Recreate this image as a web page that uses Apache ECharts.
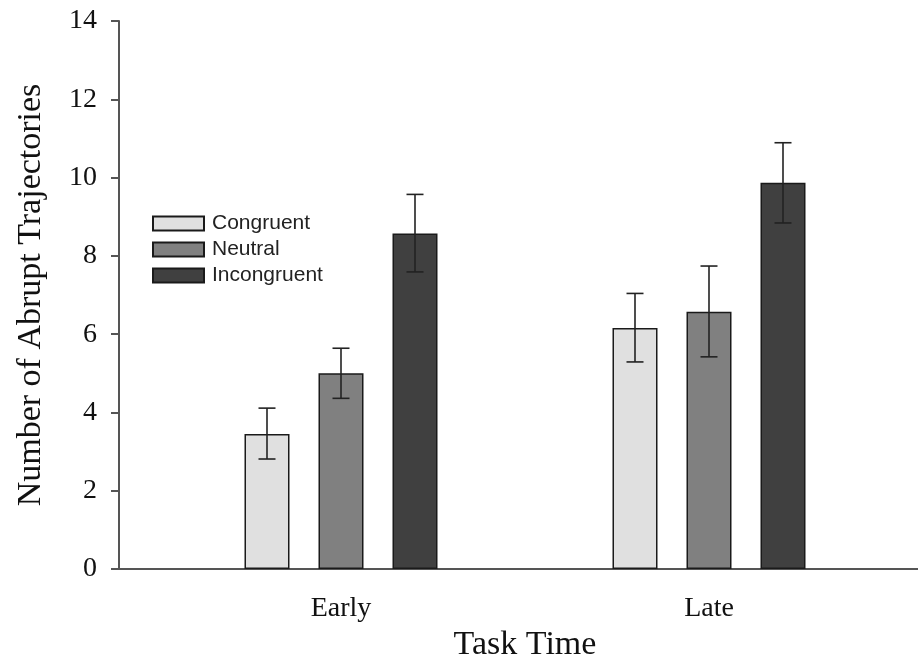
<!DOCTYPE html>
<html>
<head>
<meta charset="utf-8">
<script src="https://cdn.jsdelivr.net/npm/echarts@6/dist/echarts.min.js"></script>
<style>
html,body{margin:0;padding:0;background:#fff;}
#chart{width:918px;height:655px;}
</style>
</head>
<body>
<div id="chart"></div>
<script>
// ---- data ----
var categories = ['Early', 'Late'];
var seriesNames = ['Congruent', 'Neutral', 'Incongruent'];
var congruent = [3.45, 6.16];
var neutral = [5.00, 6.57];
var incongruent = [8.57, 9.87];
var congruentLow = [2.81, 5.29];
var congruentHigh = [4.11, 7.04];
var neutralLow = [4.36, 5.42];
var neutralHigh = [5.64, 7.74];
var incongruentLow = [7.59, 8.84];
var incongruentHigh = [9.57, 10.89];
var yTicks = [0, 2, 4, 6, 8, 10, 12, 14];

// ---- styling ----
var colors = ['#e0e0e0', '#808080', '#404040'];
var BAR_W = 45;
var BAR_GAP = 29;
var serif = '"Liberation Serif", "Times New Roman", serif';
var sans = '"Liberation Sans", Arial, sans-serif';

var values = [congruent, neutral, incongruent];
var lows = [congruentLow, neutralLow, incongruentLow];
var highs = [congruentHigh, neutralHigh, incongruentHigh];

var chart = echarts.init(document.getElementById('chart'), null, {renderer: 'canvas'});

var series = [];
seriesNames.forEach(function (name, k) {
  series.push({
    name: name,
    type: 'bar',
    xAxisIndex: 0,
    yAxisIndex: 0,
    barWidth: BAR_W,
    barGap: (BAR_GAP / BAR_W * 100) + '%',
    data: values[k],
    itemStyle: {color: colors[k], borderColor: '#1a1a1a', borderWidth: 1.5},
    emphasis: {disabled: true},
    z: 2
  });
});
seriesNames.forEach(function (name, k) {
  series.push({
    name: name + ' error',
    type: 'custom',
    xAxisIndex: 0,
    yAxisIndex: 0,
    z: 5,
    data: categories.map(function (c, i) { return [i, lows[k][i], highs[k][i]]; }),
    renderItem: function (params, api) {
      var shift = (k - 1) * (BAR_W + BAR_GAP);
      var top = api.coord([api.value(0), api.value(2)]);
      var bot = api.coord([api.value(0), api.value(1)]);
      var x = top[0] + shift;
      var cap = 8.5;
      var st = {stroke: '#222', lineWidth: 1.6};
      return {
        type: 'group',
        children: [
          {type: 'line', shape: {x1: x, y1: top[1], x2: x, y2: bot[1]}, style: st},
          {type: 'line', shape: {x1: x - cap, y1: top[1], x2: x + cap, y2: top[1]}, style: st},
          {type: 'line', shape: {x1: x - cap, y1: bot[1], x2: x + cap, y2: bot[1]}, style: st}
        ]
      };
    }
  });
});

var option = {
  backgroundColor: '#fff',
  animation: false,
  legend: {
    data: seriesNames,
    orient: 'vertical',
    left: 147,
    top: 208,
    icon: 'rect',
    itemWidth: 51,
    itemHeight: 14,
    itemGap: 5,
    selectedMode: false,
    textStyle: {fontFamily: sans, fontSize: 21, color: '#222', padding: [0, 0, 0, 3]}
  },
  grid: [
    {left: 157, right: 25, top: 21, bottom: 86, containLabel: false, outerBoundsMode: 'none'},
    {left: 119, right: 0, top: 21, bottom: 86, containLabel: false, outerBoundsMode: 'none'}
  ],
  xAxis: [
    {
      type: 'category',
      gridIndex: 0,
      data: categories,
      axisLine: {show: false},
      axisTick: {show: false},
      axisLabel: {fontFamily: serif, fontSize: 28, color: '#111', margin: 26},
      name: 'Task Time',
      nameLocation: 'middle',
      nameGap: 52,
      nameTextStyle: {fontFamily: serif, fontSize: 34, color: '#111'}
    },
    {
      type: 'value',
      gridIndex: 1,
      min: 0,
      max: 1,
      axisLine: {show: true, lineStyle: {color: '#555', width: 2}},
      axisTick: {show: false},
      axisLabel: {show: false},
      splitLine: {show: false}
    }
  ],
  yAxis: [
    {
      type: 'value',
      gridIndex: 0,
      min: yTicks[0],
      max: yTicks[yTicks.length - 1],
      interval: 2,
      offset: 38,
      axisLine: {show: true, lineStyle: {color: '#555', width: 2}},
      axisTick: {show: true, inside: false, length: 8, lineStyle: {color: '#555', width: 2}},
      axisLabel: {fontFamily: serif, fontSize: 28, color: '#111', margin: 22},
      splitLine: {show: false},
      name: 'Number of Abrupt Trajectories',
      nameLocation: 'middle',
      nameRotate: 90,
      nameGap: 71,
      nameTextStyle: {fontFamily: serif, fontSize: 34, color: '#111'}
    },
    {
      type: 'value',
      gridIndex: 1,
      show: false,
      min: 0,
      max: 1
    }
  ],
  series: series
};
chart.setOption(option);
</script>
</body>
</html>
